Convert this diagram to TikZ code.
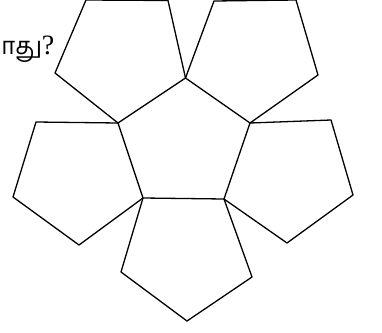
\documentclass[tikz,border=0pt]{standalone}
\usepackage{fontspec}
\setmainfont{Liberation Serif}
\newfontfamily\tamilfont[Script=Tamil]{Hind Madurai}
\usepackage{tikz}

\begin{document}
\begin{tikzpicture}[x=1pt,y=-1pt,line width=1.3pt,line join=round]
  \useasboundingbox (0,0) rectangle (382,332);
  % central face
  \coordinate (c1) at (185.5,78);
  \coordinate (c2) at (250,123);
  \coordinate (c3) at (224,199);
  \coordinate (c4) at (143,198);
  \coordinate (c5) at (118,123);
  \draw (c1) -- (c2) -- (c3) -- (c4) -- (c5) -- cycle;
  % outer faces
  \draw (c5) -- (55,73) -- (86,0) -- (168,0.5) -- (c1);
  \draw (c1) -- (214,1) -- (296,0) -- (318,75) -- (c2);
  \draw (c2) -- (331,120) -- (353,195) -- (287,243) -- (c3);
  \draw (c3) -- (252,277) -- (187,321) -- (121,272) -- (c4);
  \draw (c4) -- (79,245) -- (13,197) -- (36,122) -- (c5);
  \node[anchor=base east,inner sep=0pt,font=\fontsize{28}{32}\selectfont]
    (qn) at (55,54) {{\tamilfont\fontsize{24}{30}\selectfont ாது}?};
\end{tikzpicture}
\end{document}
